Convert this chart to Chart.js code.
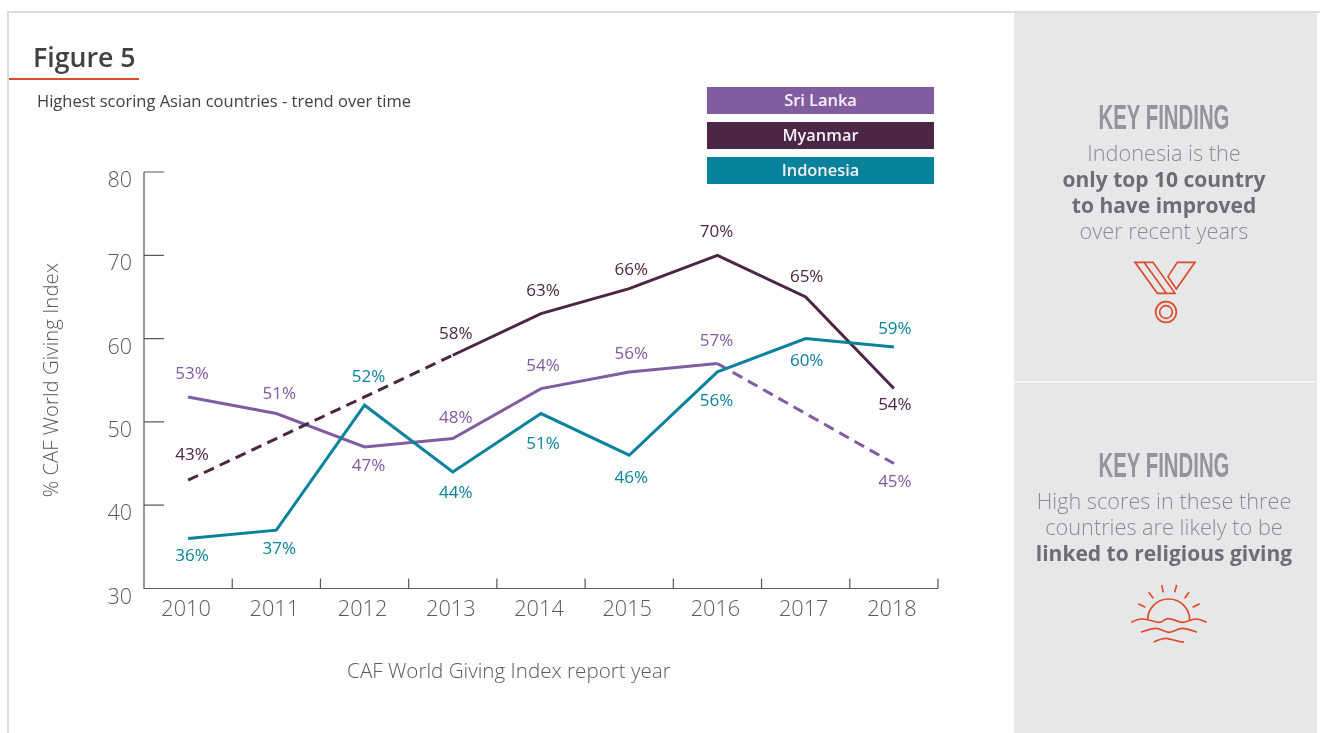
<!DOCTYPE html>
<html><head><meta charset="utf-8">
<script src="https://cdn.jsdelivr.net/npm/chart.js@4"></script>
<style>
html,body{margin:0;padding:0;width:1320px;height:733px;overflow:hidden;background:#fff;font-family:"Open Sans",sans-serif}
.a{position:absolute;white-space:nowrap}
#frameT{left:7px;top:11px;width:1313px;height:2px;background:#dcdde0}
#frameL{left:7px;top:11px;width:2px;height:722px;background:#dcdde0}
#rule{left:9px;top:78px;width:130px;height:2px;background:#e04a2a}
#fig{left:33px;top:38px;font-size:26.7px;font-weight:600;color:#414042;line-height:37px}
#sub{left:37px;top:91px;font-size:16.5px;color:#414042;line-height:20px}
.leg{left:707px;width:227px;height:27px;line-height:26px;text-align:center;color:#f4f0f5;font-size:16.4px;font-weight:600}
#panel{left:1014px;top:13px;width:303px;height:720px;background:#e6e7e9}
#div{left:1014px;top:381px;width:301px;height:2px;background:#f5f5f6}
.kf{left:1014px;width:300px;text-align:center;font-family:"Liberation Sans",sans-serif;font-weight:700;font-size:35px;line-height:40px;color:#939598;transform:scaleX(.582);transform-origin:150px 0}
.pt{left:1014px;width:300px;text-align:center;font-size:21.7px;line-height:26px;font-weight:300;color:#8a8c8f}
.pt b{font-weight:700;font-size:21px;color:#6d6e71}
canvas{position:absolute;left:0;top:0}
svg{position:absolute;fill:none;stroke:#dd4b2a;stroke-width:5}
</style></head><body>
<div class="a" id="frameT"></div><div class="a" id="frameL"></div>
<div class="a" id="panel"></div><div class="a" id="div"></div>
<canvas id="c" width="1320" height="733"></canvas>
<div class="a" id="fig">Figure 5</div><div class="a" id="rule"></div>
<div class="a" id="sub">Highest scoring Asian countries - trend over time</div>
<div class="a leg" style="top:87px;background:#815ca1">Sri Lanka</div>
<div class="a leg" style="top:122px;line-height:25px;background:#4b2645">Myanmar</div>
<div class="a leg" style="top:157px;line-height:25px;background:#09829c">Indonesia</div>
<div class="a kf" style="top:97px">KEY FINDING</div>
<div class="a pt" style="top:140px">Indonesia is the<br><b>only top 10 country<br>to have improved</b><br>over recent years</div>
<div class="a kf" style="top:445px">KEY FINDING</div>
<div class="a pt" style="top:488px">High scores in these three<br>countries are likely to be<br><b>linked to religious giving</b></div>
<svg style="left:1014px;top:80px" width="306" height="270" viewBox="0 0 918 810">
<path d="M363 547H417L483 640H430Z M390 547L457 640 M490 547H543L487 627L462 590Z"/>
<circle cx="456" cy="696" r="31"/><circle cx="456" cy="696" r="19"/>
</svg>
<svg style="left:1014px;top:370px" width="306" height="290" viewBox="0 0 918 870">
<path d="M401 750A63 63 0 0 1 527 750 M373 701L394 712 M404 667L418 685 M443 645L448 667 M488 645L482 667 M525 667L512 685 M557 701L536 712"/>
<path d="M352 757C365 750 375 747 385 747C405 747 420 757 437 757C450 757 450 746 462 746C480 746 490 757 505 757C520 757 530 747 545 747C558 747 565 752 578 757
M381 787C395 782 410 775 425 775C440 775 450 787 465 787C480 787 490 775 505 775C520 775 535 782 549 787
M419 816C430 812 442 805 455 805C470 805 490 816 510 816"/>
</svg>
<script>
const categories=["2010","2011","2012","2013","2014","2015","2016","2017","2018"];
const sriLanka=[53,51,47,48,54,56,57,51,45];
const myanmar=[43,48,53,58,63,66,70,65,54];
const indonesia=[36,37,52,44,51,46,56,60,59];
const yMin=30,yMax=80,yStep=10;
const yAxisTitle="% CAF World Giving Index";
const xAxisTitle="CAF World Giving Index report year";
const sriLankaLabelled=[1,1,1,1,1,1,1,0,1];
const myanmarLabelled=[1,0,0,1,1,1,1,1,1];
const indonesiaLabelled=[1,1,1,1,1,1,1,1,1];
const sriLankaLabelGap=[-25,-21,17,-22,-24,-20,-24,0,17];
const myanmarLabelGap=[-27,0,0,-23,-24,-20,-25,-22,15];
const indonesiaLabelGap=[16,17,-30,19,29,21,27,21,-20];
const columnLabelNudge=[4,3,4,3,2,2,-1,1,1];
const sriLankaDashFrom=6, myanmarDashTo=3;
const PURPLE="#815ca1",PLUM="#4b2645",TEAL="#09829c",AXIS="#58595b",TXT="#58595b";
const FONT='"Open Sans",sans-serif';

const axisPlugin={id:"axisMarks",afterDatasetsDraw(ch){
  const g=ch.ctx,y=ch.scales.y,a=ch.chartArea;
  g.save();g.strokeStyle=AXIS;g.lineWidth=1.2;g.beginPath();
  g.moveTo(a.left,a.top);g.lineTo(a.left,a.bottom);g.lineTo(a.right,a.bottom);
  y.ticks.forEach(t=>{const p=y.getPixelForValue(t.value);g.moveTo(a.left,p);g.lineTo(a.left+20,p);});
  for(let i=0;i<=categories.length;i++){const p=a.left+(a.right-a.left)*i/categories.length;g.moveTo(p,a.bottom);g.lineTo(p,a.bottom-10);}
  g.stroke();g.restore();
}};
const labelPlugin={id:"pointLabels",afterDatasetsDraw(ch){
  const g=ch.ctx;g.save();g.font='17px '+FONT;g.textAlign="center";g.textBaseline="middle";
  ch.data.datasets.forEach((d,di)=>{
    const m=ch.getDatasetMeta(di);g.fillStyle=d.borderColor;
    d.data.forEach((v,i)=>{if(!d.labelled[i])return;const pt=m.data[i];
      g.fillText(v+"%",pt.x+columnLabelNudge[i],pt.y+d.labelGap[i]+2);});
  });g.restore();
}};
function whenFontsReady(){
new Chart(document.getElementById("c"),{
  type:"line",
  data:{labels:categories,datasets:[
    {label:"Indonesia",data:indonesia,borderColor:TEAL,labelled:indonesiaLabelled,labelGap:indonesiaLabelGap},
    {label:"Myanmar",data:myanmar,borderColor:PLUM,labelled:myanmarLabelled,labelGap:myanmarLabelGap,
      segment:{borderDash:c=>c.p0DataIndex<myanmarDashTo?[11,6.5]:undefined}},
    {label:"Sri Lanka",data:sriLanka,borderColor:PURPLE,labelled:sriLankaLabelled,labelGap:sriLankaLabelGap,
      segment:{borderDash:c=>c.p0DataIndex>=sriLankaDashFrom?[11,6.5]:undefined}}
  ]},
  options:{
    responsive:false,animation:false,
    layout:{padding:{left:0,right:382,top:172,bottom:0}},
    elements:{point:{radius:0},line:{borderWidth:3,tension:0,borderCapStyle:"butt",borderJoinStyle:"miter"}},
    plugins:{legend:{display:false},tooltip:{enabled:false}},
    scales:{
      y:{min:yMin,max:yMax,ticks:{stepSize:yStep,color:TXT,font:{family:FONT,size:21.5,weight:"300"},padding:4,labelOffset:9},
         grid:{display:false},border:{display:false},
         title:{display:true,text:yAxisTitle,color:TXT,font:{family:FONT,size:20.4,weight:"300"},padding:{top:40,bottom:0}},
         afterFit:s=>{s.width=144;}},
      x:{offset:true,ticks:{color:TXT,font:{family:FONT,size:21.7,weight:"300"},maxRotation:0,padding:0,labelOffset:-2},
         grid:{display:false},border:{display:false},
         title:{display:true,text:xAxisTitle+" ".repeat(12),color:TXT,font:{family:FONT,size:20.6,weight:"300"},padding:{top:0,bottom:49}},
         afterFit:s=>{s.height=144.5;}}
    }
  },
  plugins:[axisPlugin,labelPlugin]
});}
(document.fonts&&document.fonts.load?Promise.all([document.fonts.load('300 21px "Open Sans"'),document.fonts.load('17px "Open Sans"')]):Promise.resolve()).then(whenFontsReady,whenFontsReady);
</script>
</body></html>
